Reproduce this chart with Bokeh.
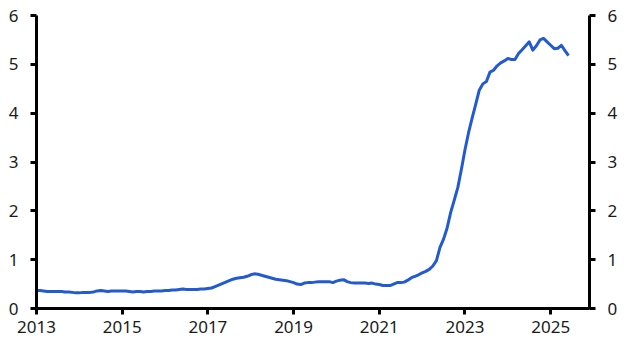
from bokeh.plotting import figure
from bokeh.models import LinearAxis, FixedTicker, Range1d, CustomJSTickFormatter
from bokeh.embed import file_html
from bokeh.resources import INLINE

start_year = 2013
values_2013 = [0.37, 0.37, 0.36, 0.35, 0.35, 0.35, 0.35, 0.35, 0.34, 0.34, 0.33, 0.32]
values_2014 = [0.32, 0.33, 0.33, 0.33, 0.34, 0.36, 0.37, 0.36, 0.35, 0.36, 0.36, 0.36]
values_2015 = [0.36, 0.36, 0.35, 0.34, 0.35, 0.35, 0.34, 0.35, 0.35, 0.36, 0.36, 0.36]
values_2016 = [0.37, 0.37, 0.38, 0.38, 0.39, 0.40, 0.39, 0.39, 0.39, 0.39, 0.40, 0.40]
values_2017 = [0.41, 0.42, 0.45, 0.48, 0.51, 0.54, 0.57, 0.60, 0.62, 0.63, 0.64, 0.66]
values_2018 = [0.69, 0.71, 0.70, 0.68, 0.66, 0.64, 0.62, 0.60, 0.59, 0.58, 0.57, 0.55]
values_2019 = [0.53, 0.50, 0.49, 0.52, 0.53, 0.53, 0.54, 0.55, 0.55, 0.55, 0.55, 0.53]
values_2020 = [0.56, 0.58, 0.59, 0.55, 0.53, 0.52, 0.52, 0.52, 0.52, 0.51, 0.52, 0.50]
values_2021 = [0.49, 0.47, 0.47, 0.47, 0.50, 0.53, 0.53, 0.54, 0.58, 0.63, 0.66, 0.69]
values_2022 = [0.73, 0.76, 0.80, 0.87, 0.98, 1.25, 1.42, 1.65, 1.97, 2.22, 2.48, 2.85]
values_2023 = [3.25, 3.60, 3.90, 4.18, 4.47, 4.60, 4.65, 4.84, 4.88, 4.97, 5.03, 5.07]
values_2024 = [5.12, 5.10, 5.10, 5.22, 5.30, 5.38, 5.46, 5.29, 5.38, 5.50, 5.53, 5.46]
values_2025 = [5.39, 5.32, 5.33, 5.39, 5.28, 5.18]

x_ticks = [2013, 2015, 2017, 2019, 2021, 2023, 2025]
y_ticks = [0, 1, 2, 3, 4, 5, 6]

series = (values_2013 + values_2014 + values_2015 + values_2016 + values_2017 +
          values_2018 + values_2019 + values_2020 + values_2021 + values_2022 +
          values_2023 + values_2024 + values_2025)
xs = [start_year + i / 12 for i in range(len(series))]

FONT = "Noto Sans"
p = figure(width=628, height=358, output_backend="svg", toolbar_location=None,
           x_range=Range1d(2013, 2025.906), y_range=Range1d(0, 6),
           min_border_left=36, min_border_right=39, min_border_top=15, min_border_bottom=50)
p.outline_line_color = None
p.xgrid.visible = False
p.ygrid.visible = False
p.background_fill_color = "white"
p.border_fill_color = "white"

p.line(xs, series, line_color="#225ad2", line_width=3, line_join="round")

right = LinearAxis()
p.add_layout(right, "right")

for ax in [p.xaxis[0], p.yaxis[0], right]:
    ax.axis_line_width = 3
    ax.axis_line_color = "black"
    ax.major_tick_line_width = 3
    ax.major_tick_line_color = "black"
    ax.major_tick_out = 6
    ax.major_tick_in = 0
    ax.minor_tick_line_color = None
    ax.major_label_text_font = FONT
    ax.major_label_text_font_size = "17px"
    ax.major_label_text_color = "#1a1a1a"

p.xaxis[0].ticker = FixedTicker(ticks=x_ticks)
p.xaxis[0].major_label_standoff = 6
p.xaxis[0].formatter = CustomJSTickFormatter(code="return String(Math.round(tick));")
for ax in [p.yaxis[0], right]:
    ax.ticker = FixedTicker(ticks=y_ticks)
    ax.major_label_standoff = 12

open("out.html", "w").write(file_html(p, INLINE))
